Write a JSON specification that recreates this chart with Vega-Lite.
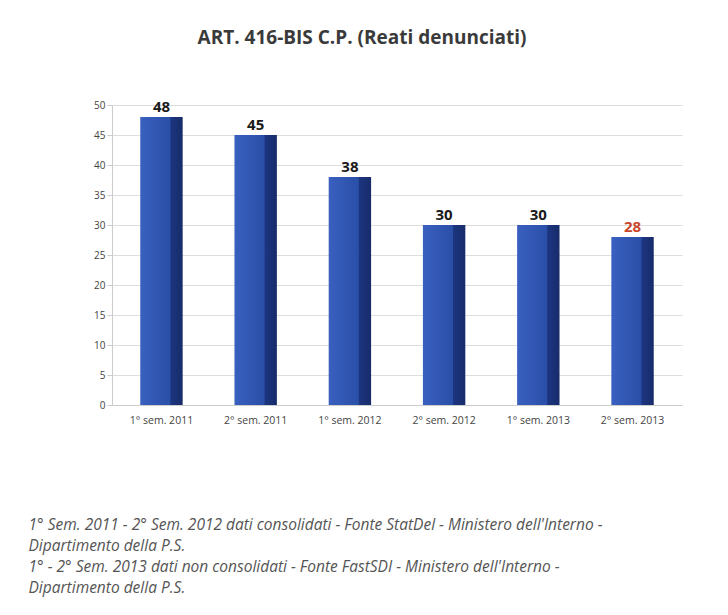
{
  "$schema": "https://vega.github.io/schema/vega-lite/v6.json",
  "autosize": {"type": "none"},
  "width": 570,
  "height": 300,
  "padding": {"left": 112, "top": 105, "right": 46, "bottom": 210},
  "background": "white",
  "config": {"view": {"stroke": null}},
  "title": {
    "text": "ART. 416-BIS C.P. (Reati denunciati)",
    "font": "Open Sans",
    "fontSize": 19,
    "fontWeight": "bold",
    "color": "#3a3a3a",
    "offset": 52,
    "dx": -35
  },
  "data": {
    "values": [
      {"periodo": "1° sem. 2011", "reati": 48, "ultimo": "no"},
      {"periodo": "2° sem. 2011", "reati": 45, "ultimo": "no"},
      {"periodo": "1° sem. 2012", "reati": 38, "ultimo": "no"},
      {"periodo": "2° sem. 2012", "reati": 30, "ultimo": "no"},
      {"periodo": "1° sem. 2013", "reati": 30, "ultimo": "no"},
      {"periodo": "2° sem. 2013", "reati": 28, "ultimo": "si"}
    ]
  },
  "encoding": {
    "x": {
      "field": "periodo",
      "type": "nominal",
      "sort": null,
      "scale": {"paddingInner": 0.55, "paddingOuter": 0.3},
      "axis": {
        "labelAngle": 0,
        "labelFont": "Open Sans",
        "labelFontSize": 10.5,
        "labelColor": "#444",
        "labelPadding": 10,
        "ticks": false,
        "domainColor": "#ccc",
        "title": [
          "1° Sem. 2011 - 2° Sem. 2012 dati consolidati - Fonte StatDel - Ministero dell'Interno -",
          "Dipartimento della P.S.",
          "1° - 2° Sem. 2013 dati non consolidati - Fonte FastSDI - Ministero dell'Interno -",
          "Dipartimento della P.S."
        ],
        "titleFont": "Open Sans",
        "titleFontSize": 15.5,
        "titleFontStyle": "italic",
        "titleFontWeight": "normal",
        "titleColor": "#555",
        "titleAnchor": "start",
        "titleAlign": "left",
        "titleBaseline": "top",
        "titleLineHeight": 21,
        "titleX": -84,
        "titleY": 112
      }
    },
    "y": {
      "field": "reati",
      "type": "quantitative",
      "scale": {"domain": [0, 50]},
      "axis": {
        "values": [0, 5, 10, 15, 20, 25, 30, 35, 40, 45, 50],
        "labelFont": "Open Sans",
        "labelFontSize": 10,
        "labelColor": "#444",
        "gridColor": "#dddddd",
        "domainColor": "#ccc",
        "tickColor": "#ccc",
        "title": null
      }
    }
  },
  "layer": [
    {
      "mark": {
        "type": "bar",
        "color": {
          "gradient": "linear",
          "x1": 0, "y1": 0, "x2": 1, "y2": 0,
          "stops": [
            {"offset": 0, "color": "#3a60c0"},
            {"offset": 0.7, "color": "#2a4fa8"},
            {"offset": 0.72, "color": "#1c3580"},
            {"offset": 1, "color": "#172c6a"}
          ]
        }
      }
    },
    {
      "mark": {"type": "text", "dy": -10, "font": "Open Sans", "fontSize": 15, "fontWeight": "bold"},
      "encoding": {
        "text": {"field": "reati", "type": "quantitative"},
        "color": {
          "field": "ultimo",
          "type": "nominal",
          "scale": {"domain": ["no", "si"], "range": ["#1a1a1a", "#c8472a"]},
          "legend": null
        }
      }
    }
  ]
}
